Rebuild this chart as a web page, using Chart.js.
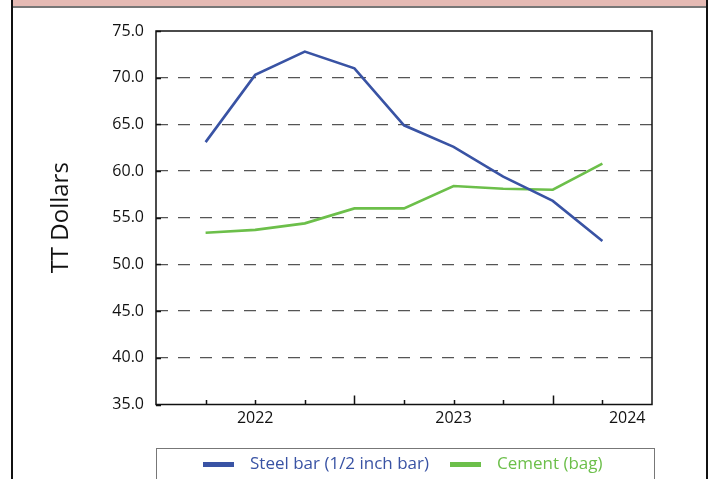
<!DOCTYPE html>
<html>
<head>
<meta charset="utf-8">
<script src="https://cdn.jsdelivr.net/npm/chart.js@4"></script>
<style>
  body { margin: 0; width: 713px; height: 479px; overflow: hidden; background: #fff; position: relative; font-family: 'Open Sans', sans-serif; }
  .frame { position: absolute; left: 11px; top: -20px; width: 693px; height: 600px; border-left: 2px solid #111; border-right: 2px solid #111; }
  .band { position: absolute; left: 13px; top: 0; width: 693px; height: 6px; background: #e5bab4; border-bottom: 2px solid #777; }
  #wrap { position: absolute; left: 0; top: 0; width: 713px; height: 479px; }
  .legend { position: absolute; left: 156px; top: 448px; width: 497px; height: 60px; border: 1px solid #777; }
  .swatch { position: absolute; top: 13px; height: 5px; }
  .ltext { position: absolute; top: 4px; font-size: 17px; line-height: 20px; white-space: nowrap; }
</style>
</head>
<body>
<div class="frame"></div>
<div class="band"></div>
<div id="wrap"><canvas id="priceChart" width="713" height="479"></canvas></div>
<div class="legend" id="legend"></div>
<script>
// periods (quarters) placed on the x axis at 1..9
const periods = [1, 2, 3, 4, 5, 6, 7, 8, 9];
const steelBar = [63.1, 70.3, 72.8, 71.0, 64.9, 62.6, 59.4, 56.8, 52.5];
const cement = [53.4, 53.7, 54.4, 56.0, 56.0, 58.4, 58.1, 58.0, 60.8];
const yearLabels = ['2022', '2023', '2024'];
const yearTickAt = [2, 6, 9.5];
const seriesNames = ['Steel bar (1/2 inch bar)', 'Cement (bag)'];

const blue = '#3953a4';
const green = '#6cbf4a';

// ejes: marco y marcas hacia adentro
const frameTicks = {
    id: 'frameTicks',
    afterDatasetsDraw(chart) {
        const { ctx, chartArea: a, scales } = chart;
        ctx.save();
        ctx.strokeStyle = '#111';
        ctx.lineWidth = 1.5;
        ctx.beginPath();
        scales.y.ticks.forEach(t => {
            const py = Math.round(scales.y.getPixelForValue(t.value)) + 0.5;
            ctx.moveTo(a.left, py);
            ctx.lineTo(a.left + 5, py);
        });
        for (let v = scales.x.min + 1; v < scales.x.max; v++) {
            const px = Math.round(scales.x.getPixelForValue(v)) + 0.5;
            const len = v % 4 === 0 ? 9 : 4.5;
            ctx.moveTo(px, a.bottom);
            ctx.lineTo(px, a.bottom - len);
        }
        ctx.stroke();
        ctx.strokeRect(a.left, a.top, a.right - a.left, a.bottom - a.top);
        ctx.restore();
    }
};

const ctx = document.getElementById('priceChart').getContext('2d');
new Chart(ctx, {
    type: 'line',
    data: {
        datasets: [{
            label: seriesNames[0],
            data: periods.map((p, i) => ({ x: p, y: steelBar[i] })),
            borderColor: blue,
            borderWidth: 2.6,
            pointRadius: 0,
            tension: 0
        }, {
            label: seriesNames[1],
            data: periods.map((p, i) => ({ x: p, y: cement[i] })),
            borderColor: green,
            borderWidth: 2.6,
            pointRadius: 0,
            tension: 0
        }]
    },
    options: {
        responsive: false,
        animation: false,
        layout: { padding: { left: 0, top: 31, right: 61, bottom: 0 } },
        plugins: { legend: { display: false }, tooltip: { enabled: false } },
        scales: {
            x: {
                type: 'linear',
                min: 0,
                max: 10,
                afterBuildTicks(scale) {
                    scale.ticks = yearTickAt.map(v => ({ value: v }));
                },
                afterFit(scale) { scale.height = 74.5; },
                grid: { display: false, drawTicks: false },
                border: { display: false },
                ticks: {
                    padding: 4,
                    maxRotation: 0,
                    autoSkip: false,
                    color: '#111',
                    font: { family: 'Open Sans', size: 16 },
                    callback: (v) => yearLabels[yearTickAt.indexOf(v)] || ''
                }
            },
            y: {
                min: 35,
                max: 75,
                afterFit(scale) { scale.width = 156; },
                ticks: {
                    stepSize: 5,
                    padding: 12,
                    color: '#111',
                    font: { family: 'Open Sans', size: 16 },
                    callback: (v) => v.toFixed(1)
                },
                grid: {
                    drawTicks: false,
                    lineWidth: 1.3,
                    color: (c) => (c.tick && (c.tick.value === 35 || c.tick.value === 75)) ? 'rgba(0,0,0,0)' : '#555'
                },
                border: { display: false, dash: [12, 10] },
                title: {
                    display: true,
                    text: 'TT Dollars',
                    color: '#111',
                    padding: { top: 47, bottom: 0 },
                    font: { family: 'Open Sans', size: 24 }
                }
            }
        }
    },
    plugins: [frameTicks]
});

// leyenda
const legend = document.getElementById('legend');
const legendItems = [
    { name: seriesNames[0], color: blue, sw: 46, tx: 93 },
    { name: seriesNames[1], color: green, sw: 293, tx: 340 }
];
legendItems.forEach(it => {
    const s = document.createElement('div');
    s.className = 'swatch';
    s.style.left = it.sw + 'px';
    s.style.width = '31px';
    s.style.background = it.color;
    legend.appendChild(s);
    const t = document.createElement('div');
    t.className = 'ltext';
    t.style.left = it.tx + 'px';
    t.style.color = it.color;
    t.textContent = it.name;
    legend.appendChild(t);
});
</script>
</body>
</html>
